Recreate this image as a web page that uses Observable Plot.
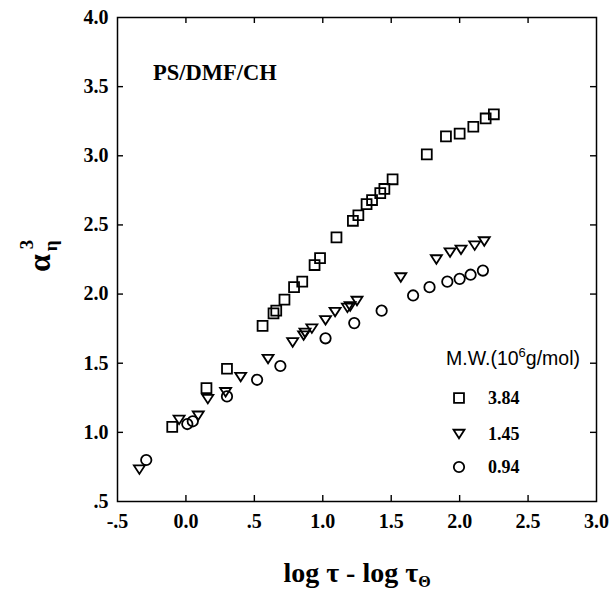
<!DOCTYPE html>
<html><head><meta charset="utf-8">
<script src="https://cdn.jsdelivr.net/npm/d3@7"></script>
<script src="https://cdn.jsdelivr.net/npm/@observablehq/plot@0.6"></script>
<style>body{margin:0;background:#fff}</style>
</head><body><div id="chart"></div>
<script>
// ---- data ----
const series = ["3.84", "1.45", "0.94"]; // M.W. (10^6 g/mol)

const sqX = [-0.10, 0.15, 0.30, 0.56, 0.64, 0.66, 0.72, 0.79, 0.85, 0.94, 0.98, 1.10, 1.22, 1.26, 1.32, 1.36, 1.42, 1.45, 1.51, 1.76, 1.90, 2.00, 2.10, 2.19, 2.25];
const sqY = [1.04, 1.32, 1.46, 1.77, 1.86, 1.88, 1.96, 2.05, 2.09, 2.21, 2.26, 2.41, 2.53, 2.57, 2.65, 2.68, 2.73, 2.76, 2.83, 3.01, 3.14, 3.16, 3.21, 3.27, 3.30];

const triX = [-0.34, -0.05, 0.09, 0.16, 0.29, 0.40, 0.60, 0.78, 0.86, 0.87, 0.92, 1.02, 1.09, 1.18, 1.20, 1.25, 1.57, 1.83, 1.93, 2.01, 2.11, 2.18];
const triY = [0.73, 1.09, 1.12, 1.24, 1.29, 1.40, 1.53, 1.65, 1.70, 1.72, 1.75, 1.81, 1.87, 1.90, 1.91, 1.95, 2.12, 2.25, 2.30, 2.32, 2.35, 2.38];

const cirX = [-0.29, 0.01, 0.05, 0.30, 0.52, 0.69, 1.02, 1.23, 1.43, 1.66, 1.78, 1.91, 2.00, 2.08, 2.17];
const cirY = [0.80, 1.06, 1.08, 1.26, 1.38, 1.48, 1.68, 1.79, 1.88, 1.99, 2.05, 2.09, 2.11, 2.14, 2.17];

const xTicks = [-0.5, 0, 0.5, 1.0, 1.5, 2.0, 2.5, 3.0];
const xTickLabels = ["-.5", "0.0", ".5", "1.0", "1.5", "2.0", "2.5", "3.0"];
const yTicks = [0.5, 1.0, 1.5, 2.0, 2.5, 3.0, 3.5, 4.0];
const yTickLabels = [".5", "1.0", "1.5", "2.0", "2.5", "3.0", "3.5", "4.0"];

// ---- layout ----
const W = 611, H = 592, mL = 117, mR = 15, mT = 17, mB = 91;
const plotW = W - mL - mR, plotH = H - mT - mB;
const tickLen = 6;
const serif = "'Liberation Serif', 'Times New Roman', serif";
const sans = "'Liberation Sans', Arial, sans-serif";

const triDown = {
  draw(ctx, size) {
    const s = Math.sqrt(size / Math.PI);
    ctx.moveTo(-1.1 * s, -0.85 * s);
    ctx.lineTo(1.1 * s, -0.85 * s);
    ctx.lineTo(0, 0.85 * s);
    ctx.closePath();
  }
};
const sym = [{symbol: "square", r: 5.6}, {symbol: triDown, r: 5.0}, {symbol: "circle", r: 5.2}];

const sqData = sqX.map((x, i) => ({x, y: sqY[i]}));
const triData = triX.map((x, i) => ({x, y: triY[i]}));
const cirData = cirX.map((x, i) => ({x, y: cirY[i]}));

const innerX = xTicks.slice(1, -1), innerY = yTicks.slice(1, -1);
const dotStyle = {x: "x", y: "y", stroke: "black", strokeWidth: 1.8, fill: "none"};

const chart = Plot.plot({
  width: W, height: H,
  marginLeft: mL, marginRight: mR, marginTop: mT, marginBottom: mB,
  x: {domain: [-0.5, 3.0]},
  y: {domain: [0.5, 4.0]},
  style: {background: "white", fontFamily: serif, color: "black"},
  marks: [
    Plot.tickX(innerX, {x: d => d, insetTop: plotH - tickLen, stroke: "black", strokeWidth: 1.4}),
    Plot.tickX(innerX, {x: d => d, insetBottom: plotH - tickLen, stroke: "black", strokeWidth: 1.4}),
    Plot.tickY(innerY, {y: d => d, insetRight: plotW - tickLen, stroke: "black", strokeWidth: 1.4}),
    Plot.tickY(innerY, {y: d => d, insetLeft: plotW - tickLen, stroke: "black", strokeWidth: 1.4}),
    Plot.axisX({ticks: xTicks, tickFormat: d => xTickLabels[xTicks.indexOf(d)], tickSize: 0, tickPadding: 12,
      fontSize: 20, fontWeight: "bold", fontFamily: serif, label: null}),
    Plot.axisY({ticks: yTicks, tickFormat: d => yTickLabels[yTicks.indexOf(d)], tickSize: 0, tickPadding: 9,
      fontSize: 20, fontWeight: "bold", fontFamily: serif, label: null}),
    Plot.frame({stroke: "black", strokeWidth: 1.5}),
    Plot.dot(sqData, {...dotStyle, symbol: sym[0].symbol, r: sym[0].r}),
    Plot.dot(triData, {...dotStyle, symbol: sym[1].symbol, r: sym[1].r}),
    Plot.dot(cirData, {...dotStyle, symbol: sym[2].symbol, r: sym[2].r})
  ]
});
document.getElementById("chart").appendChild(chart);

const svg = d3.select(chart);

// panel title
svg.append("text").attr("x", 153).attr("y", 80).attr("text-anchor", "start")
  .attr("font-family", serif).attr("font-weight", "bold").attr("font-size", 22.5)
  .attr("fill", "black").text("PS/DMF/CH");

// legend
const lt = svg.append("text").attr("x", 446).attr("y", 365).attr("text-anchor", "start")
  .attr("font-family", sans).attr("font-size", 19.5).attr("fill", "black");
lt.append("tspan").text("M.W.(10");
lt.append("tspan").attr("font-size", 13).attr("dy", -8).text("6");
lt.append("tspan").attr("dy", 8).text("g/mol)");

const legY = [398, 434, 467];
series.forEach((s, i) => {
  const symObj = typeof sym[i].symbol === "string"
    ? (sym[i].symbol === "square" ? d3.symbolSquare : d3.symbolCircle)
    : sym[i].symbol;
  svg.append("path")
    .attr("d", d3.symbol(symObj, Math.PI * sym[i].r * sym[i].r)())
    .attr("transform", `translate(459,${legY[i]})`)
    .attr("fill", "none").attr("stroke", "black").attr("stroke-width", 1.8);
  svg.append("text").attr("x", 488).attr("y", legY[i] + 6).attr("text-anchor", "start")
    .attr("font-family", serif).attr("font-weight", "bold").attr("font-size", 18)
    .attr("fill", "black").text(s);
});

// x axis title
const xt = svg.append("text").attr("x", 357).attr("y", 582).attr("text-anchor", "middle")
  .attr("font-family", serif).attr("font-weight", "bold").attr("font-size", 28).attr("fill", "black");
xt.append("tspan").text("log τ - log τ");
xt.append("tspan").attr("font-size", 16).attr("dy", 5).text("Θ");

// y axis title
const yt = svg.append("text").attr("transform", "translate(50,272) rotate(-90)").attr("text-anchor", "start")
  .attr("font-family", serif).attr("font-weight", "bold").attr("font-size", 32).attr("fill", "black");
yt.append("tspan").text("α");
yt.append("tspan").attr("font-size", 19).attr("dx", 3).attr("dy", 7).text("η");
yt.append("tspan").attr("font-size", 19).attr("dx", -9).attr("dy", -24).text("3");
</script>
</body></html>
